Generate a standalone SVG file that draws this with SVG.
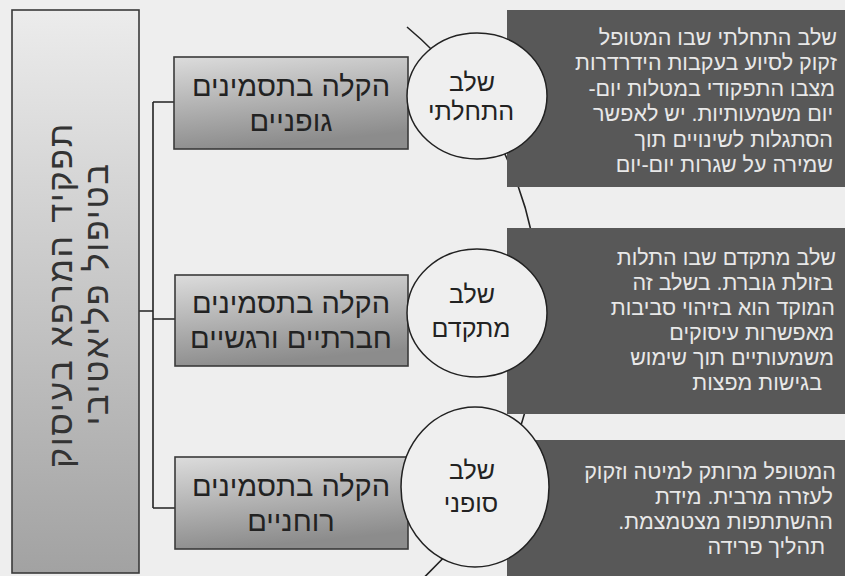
<svg xmlns="http://www.w3.org/2000/svg" width="845" height="576" viewBox="0 0 845 576">
<defs>
<linearGradient id="gLeft" x1="0" y1="0" x2="0" y2="1">
<stop offset="0" stop-color="#ececec"/>
<stop offset="1" stop-color="#a2a2a2"/>
</linearGradient>
<linearGradient id="gBox" x1="0" y1="0" x2="0.25" y2="1">
<stop offset="0" stop-color="#dcdcdc"/>
<stop offset="1" stop-color="#8c8c8c"/>
</linearGradient>
<style>
.bg{fill:#eeeeee}
.box{stroke:#3a3a3a;stroke-width:1.6}
.line{fill:none;stroke:#222;stroke-width:1.6}
.dark{fill:#585858}
.circ{fill:#efefef;stroke:#222;stroke-width:1.5}
.t{font-family:"Liberation Sans","DejaVu Sans",sans-serif;direction:rtl}
.mid{font-size:29px;fill:#222;text-anchor:middle}
.stage{font-size:25px;fill:#222;text-anchor:middle}
.desc{font-size:21.5px;fill:#e8e8e8;text-anchor:start}
.main{font-size:34px;fill:#333;text-anchor:middle;letter-spacing:1.8px}
</style>
</defs>
<rect class="bg" x="0" y="0" width="845" height="576"/>

<g id="connectors">
<path class="line" d="M139,311 H153 M153,102 V508 M153,102 H174 M153,319 H175 M153,508 H175"/>
<path class="line" d="M407,27 A368,368 0 0 1 410,590"/>
</g>

<g id="root">
<rect class="box" x="12" y="10" width="127" height="563" fill="url(#gLeft)"/>
<text class="t main" transform="translate(72,295) rotate(-90)">תפקיד המרפא בעיסוק</text>
<text class="t main" transform="translate(108,294) rotate(-90)">בטיפול פליאטיבי</text>
</g>

<g id="box-physical">
<rect class="box" x="174" y="57" width="234" height="92" fill="url(#gBox)"/>
<text class="t mid" x="291" y="96">הקלה בתסמינים</text>
<text class="t mid" x="291" y="131">גופניים</text>
</g>
<g id="box-social">
<rect class="box" x="175" y="275" width="233" height="91" fill="url(#gBox)"/>
<text class="t mid" x="291" y="313">הקלה בתסמינים</text>
<text class="t mid" x="291" y="348">חברתיים ורגשיים</text>
</g>
<g id="box-spiritual">
<rect class="box" x="175" y="457" width="233" height="92" fill="url(#gBox)"/>
<text class="t mid" x="291" y="496">הקלה בתסמינים</text>
<text class="t mid" x="291" y="531">רוחניים</text>
</g>

<g id="desc-initial">
<rect class="dark" x="507" y="10" width="338" height="177"/>
<text class="t desc" x="837" y="45">שלב התחלתי שבו המטופל</text>
<text class="t desc" x="837" y="70">זקוק לסיוע בעקבות הידרדרות</text>
<text class="t desc" x="835" y="96">מצבו התפקודי במטלות יום-</text>
<text class="t desc" x="833" y="121">יום משמעותיות. יש לאפשר</text>
<text class="t desc" x="833" y="147">הסתגלות לשינויים תוך</text>
<text class="t desc" x="833" y="172">שמירה על שגרות יום-יום</text>
</g>
<g id="desc-advanced">
<rect class="dark" x="507" y="228" width="338" height="186"/>
<text class="t desc" x="836" y="265">שלב מתקדם שבו התלות</text>
<text class="t desc" x="833" y="290">בזולת גוברת. בשלב זה</text>
<text class="t desc" x="835" y="315">המוקד הוא בזיהוי סביבות</text>
<text class="t desc" x="834" y="340">מאפשרות עיסוקים</text>
<text class="t desc" x="834" y="365">משמעותיים תוך שימוש</text>
<text class="t desc" x="822" y="390">בגישות מפצות</text>
</g>
<g id="desc-final">
<rect class="dark" x="507" y="440" width="338" height="136"/>
<text class="t desc" x="836" y="479">המטופל מרותק למיטה וזקוק</text>
<text class="t desc" x="833" y="504">לעזרה מרבית. מידת</text>
<text class="t desc" x="833" y="529">ההשתתפות מצטמצמת.</text>
<text class="t desc" x="825" y="554">תהליך פרידה</text>
</g>

<g id="stage-initial">
<ellipse class="circ" cx="477" cy="96" rx="70" ry="63"/>
<text class="t stage" x="472" y="91">שלב</text>
<text class="t stage" x="471" y="120">התחלתי</text>
</g>
<g id="stage-advanced">
<ellipse class="circ" cx="477" cy="313" rx="70" ry="64"/>
<text class="t stage" x="472" y="303">שלב</text>
<text class="t stage" x="471" y="337">מתקדם</text>
</g>
<g id="stage-final">
<ellipse class="circ" cx="475" cy="487" rx="74" ry="80"/>
<text class="t stage" x="472" y="479">שלב</text>
<text class="t stage" x="471" y="512">סופני</text>
</g>
</svg>
